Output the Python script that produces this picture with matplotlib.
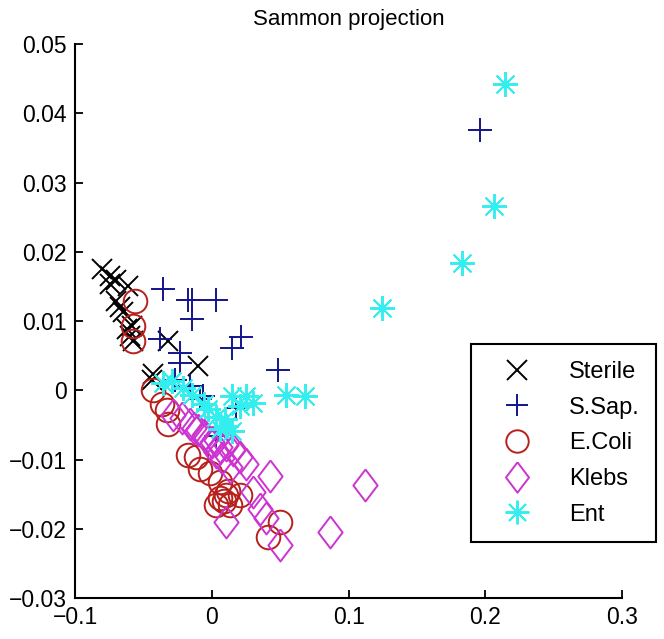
import numpy as np
from matplotlib import pyplot as plt

plt.rcParams['font.family'] = ['Liberation Sans', 'DejaVu Sans']

# Sammon projection coordinates
sterile_x = [-0.0805, -0.0745, -0.0700, -0.0745, -0.0613, -0.0700, -0.0670, -0.0650,
             -0.0586, -0.0620, -0.0599, -0.0574, -0.0319, -0.0428, -0.0440, -0.0100]
sterile_y = [0.0175, 0.0165, 0.0160, 0.0153, 0.0150, 0.0129, 0.0120, 0.0113,
             0.0093, 0.0088, 0.0078, 0.0071, 0.0071, 0.0023, 0.0015, 0.0035]

ssap_x = [-0.0355, -0.0173, -0.0148, 0.0034, -0.0148, -0.0380, -0.0234, 0.0144, 0.0210,
          0.0484, 0.1961, -0.0234, -0.0160, -0.0088, -0.0063, 0.0180, 0.0034, -0.0270]
ssap_y = [0.0146, 0.0131, 0.0131, 0.0131, 0.0103, 0.0074, 0.0054, 0.0061, 0.0077,
          0.0030, 0.0376, 0.0040, 0.0006, -0.0013, -0.0008, -0.0025, -0.0066, 0.0015]

ecoli_x = [-0.0562, -0.0574, -0.0574, -0.0428, -0.0367, -0.0330, -0.0319, -0.0173, -0.0112,
           -0.0088, -0.0015, 0.0058, 0.0058, 0.0107, 0.0034, 0.0131, 0.0204, 0.0496, 0.0411,
           0.0090, 0.0120]
ecoli_y = [0.0129, 0.0093, 0.0071, 0.0001, -0.0019, -0.0028, -0.0048, -0.0094, -0.0096,
           -0.0113, -0.0120, -0.0132, -0.0156, -0.0151, -0.0166, -0.0166, -0.0151, -0.0190, -0.0212,
           -0.0160, -0.0145]

klebs_x = [-0.0282, -0.0220, -0.0161, -0.0130, -0.0100, -0.0060, -0.0039, 0.0000, 0.0034,
           0.0060, 0.0107, 0.0156, 0.0204, 0.0253, 0.0034, 0.0071, 0.0423, 0.0302, 0.0350,
           0.0399, 0.0107, 0.0496, 0.0861, 0.1120, 0.0130]
klebs_y = [-0.0036, -0.0040, -0.0048, -0.0055, -0.0057, -0.0065, -0.0069, -0.0075, -0.0072,
           -0.0082, -0.0079, -0.0086, -0.0096, -0.0106, -0.0089, -0.0098, -0.0123, -0.0147, -0.0171,
           -0.0185, -0.0190, -0.0224, -0.0205, -0.0136, -0.0110]

ent_x = [0.2144, 0.2061, 0.1830, 0.1246, -0.0294, -0.0355, -0.0209, -0.0148, -0.0027, 0.0034,
         0.0095, 0.0107, 0.0144, 0.0253, 0.0204, 0.0302, 0.0545, 0.0679, 0.0058, 0.0144, -0.0060]
ent_y = [0.0442, 0.0266, 0.0184, 0.0119, 0.0013, 0.0011, 0.0004, -0.0006, -0.0027, -0.0039,
         -0.0042, -0.0051, -0.0008, -0.0008, -0.0023, -0.0018, -0.0006, -0.0008, -0.0056, -0.0059, -0.0020]

diamond = [(0, 1), (0.76, 0), (0, -1), (-0.76, 0), (0, 1)]

fig = plt.figure(figsize=(6.64, 6.39), dpi=100)
ax = fig.add_axes([0.113, 0.064, 0.824, 0.867])

ax.plot(sterile_x, sterile_y, ls='none', marker='x', ms=15, mew=1.4, color='black', label='Sterile')
ax.plot(ssap_x, ssap_y, ls='none', marker='+', ms=17, mew=1.4, color='#14148c', label='S.Sap.')
ax.plot(ecoli_x, ecoli_y, ls='none', marker='o', ms=17, mew=1.4, mfc='none', color='#b8201c', label='E.Coli')
ax.plot(klebs_x, klebs_y, ls='none', marker=diamond, ms=23, mew=1.4, mfc='none', color='#cc33d0', label='Klebs')
ax.plot(ent_x, ent_y, ls='none', marker=(8, 2, 0), ms=18, mew=1.4, color='#33eeee', label='Ent')

ax.set_xlim(-0.1, 0.3)
ax.set_ylim(-0.03, 0.05)
ax.set_xticks(np.arange(-0.1, 0.31, 0.1))
ax.set_yticks(np.arange(-0.03, 0.051, 0.01))
ax.set_xticklabels(['\u22120.1', '0', '0.1', '0.2', '0.3'])
ax.set_yticklabels(['\u22120.03', '\u22120.02', '\u22120.01', '0', '0.01', '0.02', '0.03', '0.04', '0.05'])
ax.tick_params(direction='in', length=6, width=1.3, labelsize=16.5, pad=6)
for side in ['top', 'right']:
    ax.spines[side].set_visible(False)
for side in ['left', 'bottom']:
    ax.spines[side].set_linewidth(1.5)
ax.set_title('Sammon projection', fontsize=16, pad=14)

leg = ax.legend(loc='upper left', bbox_to_anchor=(0.724, 0.458), fontsize=17, frameon=True,
                fancybox=False, edgecolor='black', framealpha=1, borderaxespad=0,
                handlelength=2.5, handletextpad=0.95, labelspacing=0.58, borderpad=0.7,
                markerscale=0.95)
leg.get_frame().set_linewidth(1.5)

plt.savefig('out.png', dpi=100)
